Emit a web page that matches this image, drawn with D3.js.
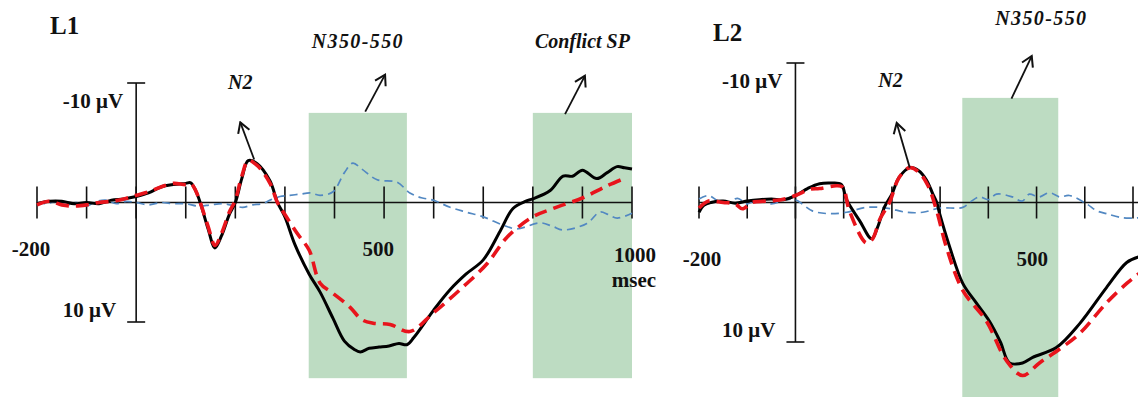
<!DOCTYPE html>
<html>
<head>
<meta charset="utf-8">
<script src="https://cdn.jsdelivr.net/npm/d3@7"></script>
<style>
  body { margin: 0; background: #fff; }
  text { font-family: "Liberation Serif", "Times New Roman", serif; font-weight: bold; fill: #111; }
  .ital { font-style: italic; }
</style>
</head>
<body>
<script>
// ---- data (ms, microvolts; negative plotted up) ----
var l1Black = [[-200,0.1],[-175,-0.1],[-150,-0.1],[-125,0.1],[-100,0],[-75,0.1],[-50,-0.2],[-25,-0.3],[0,-0.5],[25,-0.8],[50,-1.3],[75,-1.5],[100,-1.6],[110,-1.65],[120,-1],[130,0.1],[145,2.2],[159,3.8],[172,2.8],[188,1],[200,0],[213,-2],[226,-3.5],[244,-3.25],[270,-1.8],[285,0],[300,1.2],[320,3.5],[349,6],[371,7.5],[397,9.7],[420,11.6],[440,12.3],[452,12.5],[470,12.2],[490,12.1],[510,12],[530,11.8],[546,11.9],[560,11.3],[600,9],[633,7.3],[665,6],[700,4.8],[734,2.4],[760,0.5],[785,-0.1],[800,-0.3],[835,-1],[861,-2.2],[880,-2.2],[900,-2.7],[929,-2],[950,-2.5],[970,-3],[985,-2.9],[1000,-2.8]];
var l1Red = [[-200,0.2],[-175,-0.1],[-150,0.2],[-125,0.3],[-100,0.2],[-75,0],[-50,-0.1],[-25,-0.3],[0,-0.6],[25,-0.9],[50,-1.3],[75,-1.6],[100,-1.5],[110,-1.6],[120,-1],[130,0.1],[145,2],[159,3.6],[172,2.6],[188,0.8],[200,-0.2],[213,-2.2],[226,-3.5],[244,-3.1],[270,-1.6],[285,0],[300,1],[325,2.6],[349,4],[371,6.75],[397,7.6],[431,8.75],[455,9.8],[478,10.1],[512,10.2],[552,10.8],[599,9.25],[653,7.3],[708,5.1],[748,2.9],[800,1.2],[841,0.5],[901,-0.4],[950,-1.4],[990,-2.1]];
var l1Blue = [[-200,0],[-180,0.1],[-160,-0.1],[-140,0.2],[-120,0],[-100,0.3],[-80,-0.1],[-60,-0.2],[-40,0.1],[-20,-0.1],[0,0],[25,0.2],[50,0],[75,0.1],[100,0.1],[125,0.3],[150,0.2],[175,0.1],[200,0.3],[215,0.4],[235,0.2],[255,0.1],[270,-0.2],[290,-0.5],[310,-0.6],[331,-0.7],[351,-0.8],[371,-0.6],[397,-0.9],[420,-2.5],[437,-3.3],[455,-2.8],[486,-1.9],[526,-1.7],[552,-0.8],[575,-0.4],[599,-0.2],[633,0.4],[665,0.8],[700,1.2],[740,1.9],[768,2.2],[815,1.7],[840,2],[861,2.3],[909,1.75],[935,0.8],[952,1],[970,1.3],[1000,0.9]];

var l2Black = [[-200,0.7],[-190,0.2],[-175,0],[-150,-0.1],[-125,0.05],[-100,-0.1],[-75,-0.2],[-50,-0.25],[-25,-0.2],[0,-0.5],[25,-1],[50,-1.35],[75,-1.4],[95,-1.3],[106,-0.2],[133,1.3],[158,2.6],[170,1.8],[185,0.3],[200,-0.6],[215,-1.8],[237,-2.5],[255,-2.3],[272,-1.6],[285,-0.6],[293,0],[299,0.8],[320,3.2],[347,5.8],[375,7.2],[402,8.5],[425,10],[444,11.5],[471,11.5],[492,11.1],[541,10.4],[589,8.7],[645,6.1],[687,4.3],[712,3.9]];
var l2Red = [[-200,0.4],[-180,-0.1],[-150,0],[-125,0.1],[-110,0.45],[-90,0],[-60,-0.1],[-30,-0.2],[0,-0.5],[30,-0.95],[50,-1],[85,-1.2],[98,-1.1],[112,0.6],[147,2.9],[160,2.6],[175,1.2],[195,0],[215,-1.8],[237,-2.5],[255,-2.2],[275,-1.2],[293,0.6],[313,3.2],[347,6.3],[396,8.5],[437,11.3],[471,12.4],[506,11.5],[548,10.5],[589,9.4],[645,7.2],[687,5.8],[712,5.1]];
var l2Blue = [[-200,-0.25],[-180,-0.5],[-160,-0.1],[-140,0],[-120,-0.3],[-100,0.1],[-80,-0.2],[-50,0.1],[-20,-0.2],[0,-0.2],[35,0.6],[70,0.8],[106,0.7],[147,0.35],[189,0.4],[230,0.7],[264,0.7],[299,0.4],[347,0.35],[365,-0.1],[382,-0.4],[400,-0.2],[417,-0.6],[450,-0.4],[470,-0.1],[485,-0.6],[505,-0.4],[527,-0.7],[548,-0.4],[568,-0.5],[604,0.1],[625,0.6],[645,0.8],[680,1.1],[712,1.1]];

var l1Ticks = [-200,-100,0,100,200,300,400,500,600,700,800,900,1000];
var l2Ticks = [-200,-100,0,100,200,300,400,500,600,700];

// analysis windows [startMs, endMs]
var l1Windows = [[348,546],[800,1000]];
var l2Windows = [[346,545]];

var W = 1138, H = 397;

var svg = d3.select("body").append("svg")
  .attr("width", W)
  .attr("height", H);

svg.append("defs").append("marker")
  .attr("id", "arr")
  .attr("viewBox", "-12 -8 14 16")
  .attr("refX", 0).attr("refY", 0)
  .attr("markerWidth", 14).attr("markerHeight", 16)
  .attr("markerUnits", "userSpaceOnUse")
  .attr("orient", "auto")
  .append("path")
  .attr("d", "M-10,-6 L0,0 L-10,6")
  .attr("fill", "none")
  .attr("stroke", "#111")
  .attr("stroke-width", 2);

var panels = [
  {
    name: "L1", black: l1Black, red: l1Red, blue: l1Blue, ticks: l1Ticks, windows: l1Windows,
    x: d3.scaleLinear().domain([-200, 1000]).range([37, 632]),
    y: d3.scaleLinear().domain([-10, 10]).range([83, 322]),
    axisEnd: 1000,
    title: [50, 34],
    winBox: [-7.5, 14.7],
    labels: [
      { t: "N2", ms: 210, uv: -9.5, it: true },
      { t: "N350-550", ms: 447, uv: -12.9, it: true, ls: 1.4 },
      { t: "Conflict SP", ms: 900, uv: -12.9, it: true }
    ],
    arrows: [[238,-3.6,210,-6.7],[462,-7.6,502,-10.7],[865,-7.4,905,-10.6]],
    xLabels: [
      { t: "-200", ms: -212, uv: 4.5 },
      { t: "500", ms: 488, uv: 4.5 },
      { t: "1000", ms: 1006, uv: 5 },
      { t: "msec", ms: 1004, uv: 7.1 }
    ]
  },
  {
    name: "L2", black: l2Black, red: l2Red, blue: l2Blue, ticks: l2Ticks, windows: l2Windows,
    x: d3.scaleLinear().domain([-200, 700]).range([699, 1133]),
    y: d3.scaleLinear().domain([-10, 10]).range([63, 342]),
    axisEnd: 720,
    title: [713, 41],
    winBox: [-7.5, 14.5],
    labels: [
      { t: "N2", ms: 197, uv: -8.25, it: true },
      { t: "N350-550", ms: 510, uv: -12.75, it: true, ls: 1.4 }
    ],
    arrows: [[237,-2.5,210,-5.7],[448,-7.45,490,-10.5]],
    xLabels: [
      { t: "-200", ms: -194, uv: 4.55 },
      { t: "500", ms: 491, uv: 4.55 }
    ]
  }
];

panels.forEach(function(p) {
  var g = svg.append("g");
  var x = p.x, y = p.y;

  // shaded time windows
  g.selectAll("rect.win")
    .data(p.windows)
    .enter().append("rect")
    .attr("x", function(d) { return x(d[0]); })
    .attr("width", function(d) { return x(d[1]) - x(d[0]); })
    .attr("y", y(p.winBox[0]))
    .attr("height", y(p.winBox[1]) - y(p.winBox[0]))
    .attr("fill", "#bddcc2");

  // x axis line + crossing ticks
  g.append("line")
    .attr("x1", x(-200)).attr("x2", x(p.axisEnd))
    .attr("y1", y(0)).attr("y2", y(0))
    .attr("stroke", "#111").attr("stroke-width", 1.6);

  g.selectAll("line.tick")
    .data(p.ticks)
    .enter().append("line")
    .attr("x1", function(d) { return x(d); })
    .attr("x2", function(d) { return x(d); })
    .attr("y1", y(0) - 16).attr("y2", y(0) + 16)
    .attr("stroke", "#111").attr("stroke-width", 1.6);

  // y axis with caps
  g.append("line")
    .attr("x1", x(0)).attr("x2", x(0))
    .attr("y1", y(-10)).attr("y2", y(10))
    .attr("stroke", "#111").attr("stroke-width", 1.6);
  [-10, 10].forEach(function(v) {
    g.append("line")
      .attr("x1", x(0) - 9).attr("x2", x(0) + 9)
      .attr("y1", y(v)).attr("y2", y(v))
      .attr("stroke", "#111").attr("stroke-width", 1.6);
  });

  g.append("text").attr("x", x(0) - 13).attr("y", y(-10) + 25)
    .attr("text-anchor", "end").style("font-size", "21px").text("-10 \u03bcV");
  g.append("text").attr("x", x(0) - 20).attr("y", y(10) - 5)
    .attr("text-anchor", "end").style("font-size", "21px").text("10 \u03bcV");

  // waveforms
  var line = d3.line()
    .x(function(d) { return x(d[0]); })
    .y(function(d) { return y(d[1]); })
    .curve(d3.curveCatmullRom);

  g.append("path").datum(p.blue).attr("d", line)
    .attr("fill", "none").attr("stroke", "#5288c2")
    .attr("stroke-width", 1.7).attr("stroke-dasharray", "8,5");

  g.append("path").datum(p.black).attr("d", line)
    .attr("fill", "none").attr("stroke", "#000")
    .attr("stroke-width", 3).attr("stroke-linejoin", "round");

  g.append("path").datum(p.red).attr("d", line)
    .attr("fill", "none").attr("stroke", "#e8141c")
    .attr("stroke-width", 3.6).attr("stroke-dasharray", "13,7");

  // annotation arrows
  g.selectAll("line.arrow")
    .data(p.arrows)
    .enter().append("line")
    .attr("x1", function(d) { return x(d[0]); })
    .attr("y1", function(d) { return y(d[1]); })
    .attr("x2", function(d) { return x(d[2]); })
    .attr("y2", function(d) { return y(d[3]); })
    .attr("stroke", "#111").attr("stroke-width", 1.8)
    .attr("marker-end", "url(#arr)");

  g.selectAll("text.lab")
    .data(p.labels)
    .enter().append("text")
    .attr("class", function(d) { return d.it ? "ital" : null; })
    .attr("x", function(d) { return x(d.ms); })
    .attr("y", function(d) { return y(d.uv); })
    .attr("text-anchor", "middle")
    .style("font-size", "20px")
    .style("letter-spacing", function(d) { return d.ls ? d.ls + "px" : null; })
    .text(function(d) { return d.t; });

  g.selectAll("text.xl")
    .data(p.xLabels)
    .enter().append("text")
    .attr("x", function(d) { return x(d.ms); })
    .attr("y", function(d) { return y(d.uv); })
    .attr("text-anchor", "middle")
    .style("font-size", "21px")
    .text(function(d) { return d.t; });

  svg.append("text")
    .attr("x", p.title[0]).attr("y", p.title[1])
    .style("font-size", "25px")
    .text(p.name);
});
</script>
</body>
</html>
